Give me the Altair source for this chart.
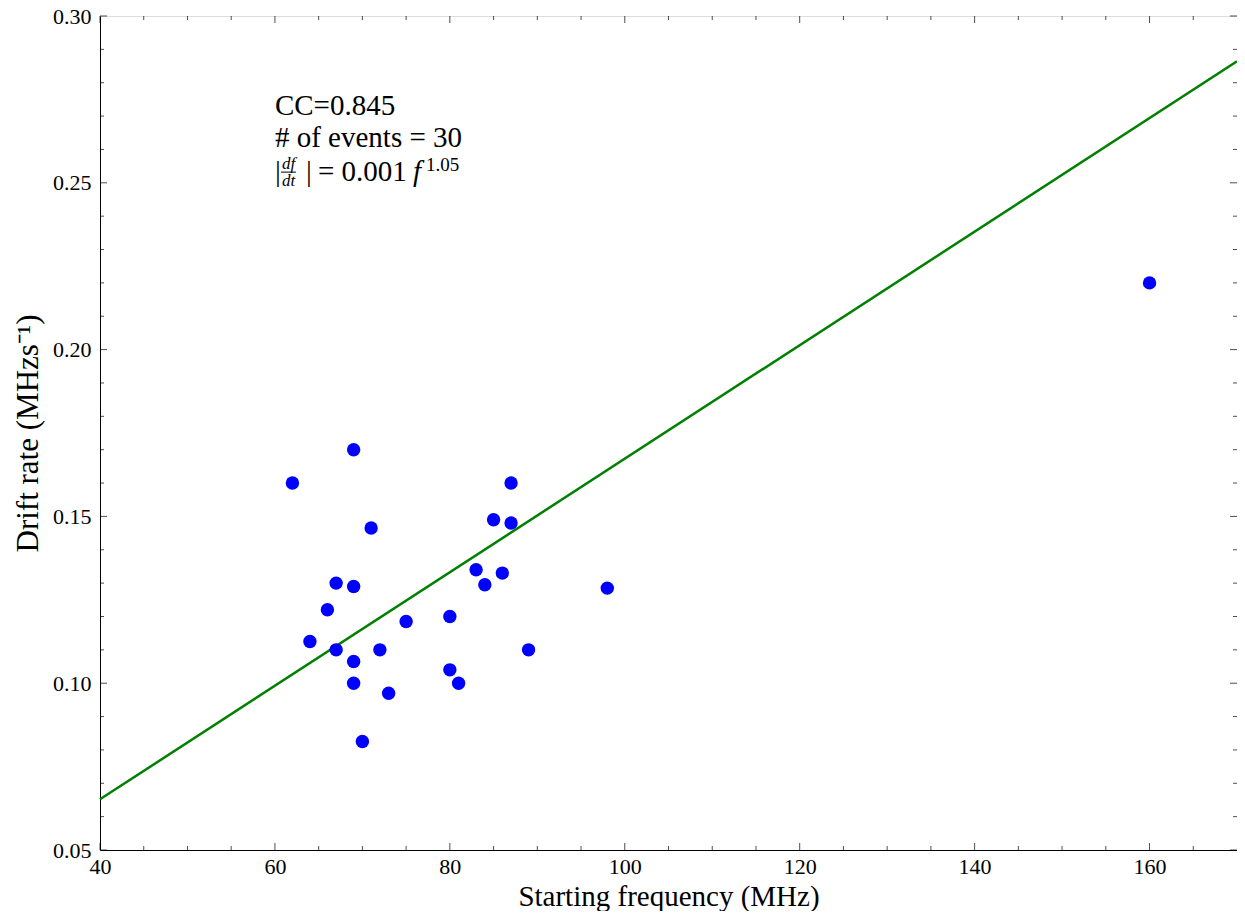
import altair as alt
import pandas as pd

# ---- data ----
freq = [62, 69, 87, 71, 85, 87, 83, 86, 84, 67, 69, 98, 66, 75, 80, 64, 67, 72, 89, 69, 80, 69, 81, 73, 70, 160]
drift = [0.160, 0.170, 0.160, 0.1465, 0.149, 0.148, 0.134, 0.133, 0.1295, 0.130, 0.129, 0.1285, 0.122, 0.1185,
         0.120, 0.1125, 0.110, 0.110, 0.110, 0.1065, 0.104, 0.100, 0.100, 0.097, 0.0825, 0.220]

fit_x = [40, 170]
fit_y = [0.0652, 0.2864]

x_major = [40, 60, 80, 100, 120, 140, 160]
x_minor = [45, 50, 55, 65, 70, 75, 85, 90, 95, 105, 110, 115, 125, 130, 135, 145, 150, 155, 165]
y_major = [0.05, 0.10, 0.15, 0.20, 0.25, 0.30]
y_minor = [0.06, 0.07, 0.08, 0.09, 0.11, 0.12, 0.13, 0.14, 0.16, 0.17, 0.18, 0.19,
           0.21, 0.22, 0.23, 0.24, 0.26, 0.27, 0.28, 0.29]

ann_text = ["CC=0.845", "# of events = 30"]
ann_x = [60, 60]
ann_y = [0.2703, 0.2606]
formula_x = 60
formula_y = 0.2505

XMIN, XMAX = 40, 170
YMIN, YMAX = 0.05, 0.30

FONT = "Liberation Serif"
BIG = 31
ANN = 29

pts = pd.DataFrame({"freq": freq, "drift": drift})
fit = pd.DataFrame({"freq": fit_x, "drift": fit_y})
ann = pd.DataFrame({"x": ann_x, "y": ann_y, "t": ann_text})

xs = alt.Scale(domain=[XMIN, XMAX], nice=False, zero=False)
ys = alt.Scale(domain=[YMIN, YMAX], nice=False, zero=False)

xaxis = alt.Axis(values=x_major, format="d", ticks=False, grid=False, labelPadding=6,
                 labelFlush=False, labelOverlap=False, labelFont=FONT, labelFontSize=22,
                 labelColor="black", domainColor="black", title="Starting frequency (MHz)",
                 titleFont=FONT, titleFontSize=29, titleFontWeight="normal", titleColor="black",
                 titleBaseline="alphabetic", titleY=55)
yaxis = alt.Axis(values=y_major, format=".2f", ticks=False, grid=False, labelPadding=9,
                 labelFlush=False, labelOverlap=False, labelFont=FONT, labelFontSize=22,
                 labelColor="black", domainColor="black", title="Drift rate (MHzs⁻¹)",
                 titleFont=FONT, titleFontSize=BIG, titleFontWeight="normal", titleColor="black",
                 titlePadding=8)

line = alt.Chart(fit).mark_line(color="#008000", strokeWidth=2.5).encode(
    x=alt.X("freq:Q", scale=xs, axis=xaxis),
    y=alt.Y("drift:Q", scale=ys, axis=yaxis),
)

points = alt.Chart(pts).mark_circle(color="#0000ff", opacity=1, size=180).encode(
    x=alt.X("freq:Q", scale=xs),
    y=alt.Y("drift:Q", scale=ys),
)

def xticks(vals, length, yval, off):
    return alt.Chart(pd.DataFrame({"v": vals})).mark_tick(
        orient="vertical", size=length, thickness=1, color="black", yOffset=off
    ).encode(x=alt.X("v:Q", scale=xs), y=alt.datum(yval, scale=ys))

def yticks(vals, length, xval, off):
    return alt.Chart(pd.DataFrame({"v": vals})).mark_tick(
        orient="horizontal", size=length, thickness=1, color="black", xOffset=off
    ).encode(y=alt.Y("v:Q", scale=ys), x=alt.datum(xval, scale=xs))

tick_layers = [
    xticks(x_major, 7, YMIN, -3.5), xticks(x_minor, 4, YMIN, -2),
    xticks(x_major, 7, YMAX, 3.5), xticks(x_minor, 4, YMAX, 2),
    yticks(y_major, 7, XMIN, 3.5), yticks(y_minor, 4, XMIN, 2),
    yticks(y_major, 7, XMAX, -3.5), yticks(y_minor, 4, XMAX, -2),
]

ann_layer = alt.Chart(ann).mark_text(align="left", baseline="alphabetic", font=FONT,
                                     fontSize=ANN, color="black").encode(
    x=alt.X("x:Q", scale=xs), y=alt.Y("y:Q", scale=ys), text="t:N")

fdf = pd.DataFrame({"x": [formula_x], "y": [formula_y]})

def piece(txt, dx, dy, size, italic=False):
    kw = dict(align="left", baseline="alphabetic", font=FONT, fontSize=size, color="black",
              dx=dx, dy=dy)
    if italic:
        kw["fontStyle"] = "italic"
    return alt.Chart(fdf).mark_text(**kw).encode(
        x=alt.X("x:Q", scale=xs), y=alt.Y("y:Q", scale=ys), text=alt.value(txt))

frac_bar = alt.Chart(fdf).mark_rule(color="black", strokeWidth=1, xOffset=6, x2Offset=21,
                                    yOffset=-9).encode(
    x=alt.X("x:Q", scale=xs), x2="x:Q", y=alt.Y("y:Q", scale=ys))

formula = [
    piece("|", 0, 0, ANN),
    piece("df", 7, -12, 17, True),
    frac_bar,
    piece("dt", 7, 5, 17, True),
    piece("|", 31, 0, ANN),
    piece("= 0.001", 43, 0, ANN),
    piece("f", 138, 0, ANN, True),
    piece("1.05", 151, -10, 19),
]

chart = alt.layer(line, points, *tick_layers, ann_layer, *formula).properties(
    width=1137, height=834,
    padding={"left": 92, "top": 8, "right": 0, "bottom": 61},
    autosize=alt.AutoSizeParams(type="none"),
    background="white",
).configure_view(stroke="black", strokeWidth=1).configure(font=FONT)

chart.save("out.html", embed_options={"renderer": "svg", "actions": False})
